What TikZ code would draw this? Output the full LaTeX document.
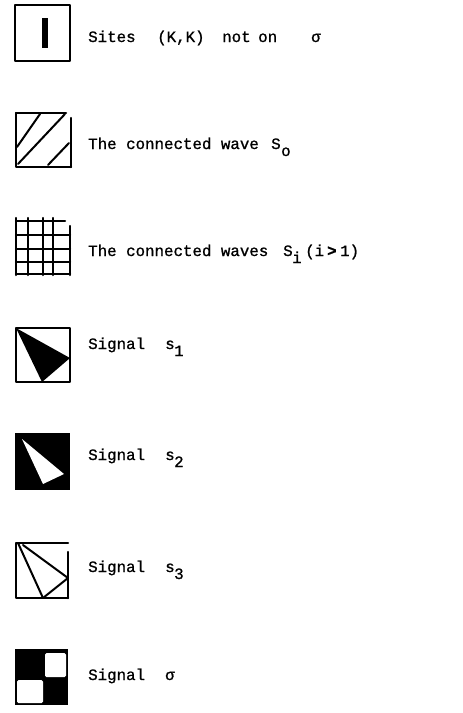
\documentclass[tikz,border=0pt]{standalone}
\usepackage{fontspec}
\newfontfamily\typew{Liberation Mono}[FakeBold=1]
\tikzset{
  box/.style={line width=2.5pt, line cap=round, line join=round},
  thin/.style={line width=2pt, line cap=round},
  lbl/.style={anchor=base west, inner sep=0pt, font=\typew\fontsize{15.8}{18}\selectfont},
  sub/.style={lbl}
}
\begin{document}
\begin{tikzpicture}[x=1pt, y=-1pt]
\useasboundingbox (0,0) rectangle (463,713);

% --- Sites (K,K) not on sigma: box with a vertical bar
\draw[box] (15,5) rectangle (70,61);
\fill (42,18) rectangle (48,48);
\node[lbl] (t1a) at (88,42) {Sites};
\node[lbl] (t1b) at (157,42) {(K,K)};
\node[lbl] (t1c) at (222,42) {not};
\node[lbl] (t1d) at (258,42) {on};
\node[lbl] (t1e) at (311,42) {σ};

% --- connected wave S_o: hatched box
\draw[box] (16,113) -- (66,113);
\draw[box] (16,113) -- (16,167) -- (71,167);
\draw[box] (71,118) -- (71,167);
\draw[thin] (17,147) -- (40,114);
\draw[thin] (18,164) -- (65,114);
\draw[thin] (48,165) -- (69,143);
\node[lbl] (t2a) at (88,149) {The connected wave};
\node[lbl] (t2b) at (271,149) {S};
\node[sub] (t2c) at (281,156) {o};

% --- connected waves S_i: grid box
\foreach \yy in {235,249,262,274} \draw[box] (16,\yy) -- (70,\yy);
\draw[box] (16,221) -- (65,221);
\foreach \xx in {16,28,43,53} \draw[box] (\xx,218) -- (\xx,275);
\draw[box] (70,226) -- (70,275);
\node[lbl] (t3a) at (88,256) {The connected waves};
\node[lbl] (t3b) at (283,256) {S};
\node[sub] (t3c) at (292,263) {i};
\node[lbl] (t3d) at (305,256) {(i};
\node[lbl] (t3e) at (327,256) {\textbf{>}};
\node[lbl] (t3f) at (340,256) {1)};

% --- signal s_1
\draw[box] (16,328) rectangle (70,382);
\fill (16,328) -- (70,358) -- (42,382) -- cycle;
\node[lbl] (t4a) at (88,349) {Signal};
\node[lbl] (t4b) at (165,349) {s};
\node[sub] (t4c) at (174,356) {1};

% --- signal s_2
\fill (15,433) rectangle (70,490);
\fill[white] (22,439) -- (64,474) -- (43,484) -- cycle;
\node[lbl] (t5a) at (88,460) {Signal};
\node[lbl] (t5b) at (165,460) {s};
\node[sub] (t5c) at (174,467) {2};

% --- signal s_3
\draw[box] (68,543) -- (16,543) -- (16,598) -- (68,598);
\draw[box] (68,552) -- (68,598);
\draw[thin] (18,543) -- (43,598);
\draw[thin] (23,545) -- (68,578);
\draw[thin] (43,598) -- (68,578);
\node[lbl] (t6a) at (88,572) {Signal};
\node[lbl] (t6b) at (165,572) {s};
\node[sub] (t6c) at (174,579) {3};

% --- signal sigma: checkerboard
\fill (15,649) rectangle (68,705);
\fill[white, rounded corners=1.5pt] (45,653) rectangle (66,677);
\fill[white, rounded corners=1.5pt] (17,680) rectangle (43,703);
\node[lbl] (t7a) at (88,680) {Signal};
\node[lbl] (t7b) at (165,680) {σ};
\end{tikzpicture}
\end{document}
